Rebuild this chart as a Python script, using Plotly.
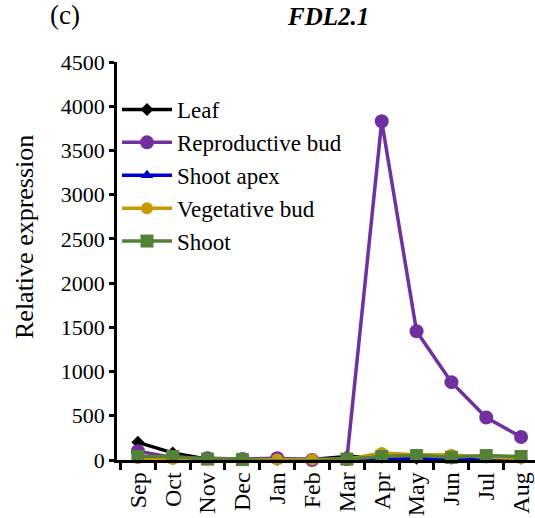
import plotly.graph_objects as go

months = ["Sep", "Oct", "Nov", "Dec", "Jan", "Feb", "Mar", "Apr", "May", "Jun", "Jul", "Aug"]
leaf = [200, 80, 10, 5, 5, 5, 40, 30, 20, 20, 30, 20]
reproductive_bud = [100, 30, 20, 10, 20, 0, 10, 3830, 1455, 880, 480, 260]
shoot_apex = [10, 5, 5, 5, 5, 5, 5, 10, 15, 10, 10, 10]
vegetative_bud = [20, 10, 10, 5, 5, 5, 10, 80, 60, 60, 30, 20]
shoot = [40, 40, 10, 5, -10, -10, 10, 40, 50, 30, 50, 40]

series = [
    ("Leaf", leaf, "#000000", "diamond", 10),
    ("Reproductive bud", reproductive_bud, "#7030A0", "circle", 14),
    ("Shoot apex", shoot_apex, "#0000CC", "triangle-up", 11),
    ("Vegetative bud", vegetative_bud, "#C99A06", "circle", 12),
    ("Shoot", shoot, "#538135", "square", 13),
]

serif = "Liberation Serif"

L, R, T, B = 117, 0, 62, 58
W, H = 535, 518
pw, ph = W - L - R, H - T - B

fig = go.Figure()
for name, vals, color, sym, size in series:
    fig.add_trace(go.Scatter(
        x=months, y=vals, name=name, mode="lines+markers",
        line=dict(color=color, width=3.5),
        marker=dict(color=color, symbol=sym, size=size),
        legendgroup=name, cliponaxis=False,
    ))

fig.update_layout(
    width=W, height=H,
    margin=dict(l=L, r=R, t=T, b=B),
    paper_bgcolor="white", plot_bgcolor="white",
    font=dict(family=serif, size=18, color="black"),
    showlegend=True,
    legend=dict(x=0.0, y=(460 - 88) / ph, xanchor="left", yanchor="top",
                font=dict(family=serif, size=23, color="black"),
                bgcolor="rgba(0,0,0,0)", tracegroupgap=0,
                itemwidth=50),
    annotations=[
        dict(text="(c)", xref="paper", yref="paper",
             x=(65 - L) / pw, y=1 + (T - 15) / ph,
             showarrow=False, font=dict(family=serif, size=27), xanchor="center", yanchor="middle"),
        dict(text="<b><i>FDL2.1</i></b>", xref="paper", yref="paper",
             x=(328 - L) / pw, y=1 + (T - 16) / ph,
             showarrow=False, font=dict(family=serif, size=25), xanchor="center", yanchor="middle"),
        dict(text="Relative expression", xref="paper", yref="paper",
             x=(25 - L) / pw, y=(460 - 237) / ph, textangle=-90,
             showarrow=False, font=dict(family=serif, size=26), xanchor="center", yanchor="middle"),
    ],
)

fig.update_xaxes(
    type="category", range=[-0.6, 11.4],
    showline=True, linecolor="black", linewidth=2.5,
    ticks="outside", tickson="boundaries", ticklen=7, tickwidth=2.5, tickcolor="black",
    tickangle=-90, tickfont=dict(family=serif, size=24),
    showgrid=False, zeroline=False,
)
fig.update_yaxes(
    range=[0, 4500], tick0=0, dtick=500,
    showline=True, linecolor="black", linewidth=2.5,
    ticks="outside", ticklen=5, tickwidth=2.5, tickcolor="black",
    tickfont=dict(family=serif, size=22),
    showgrid=False, zeroline=False,
)

fig.write_html("out.html")
